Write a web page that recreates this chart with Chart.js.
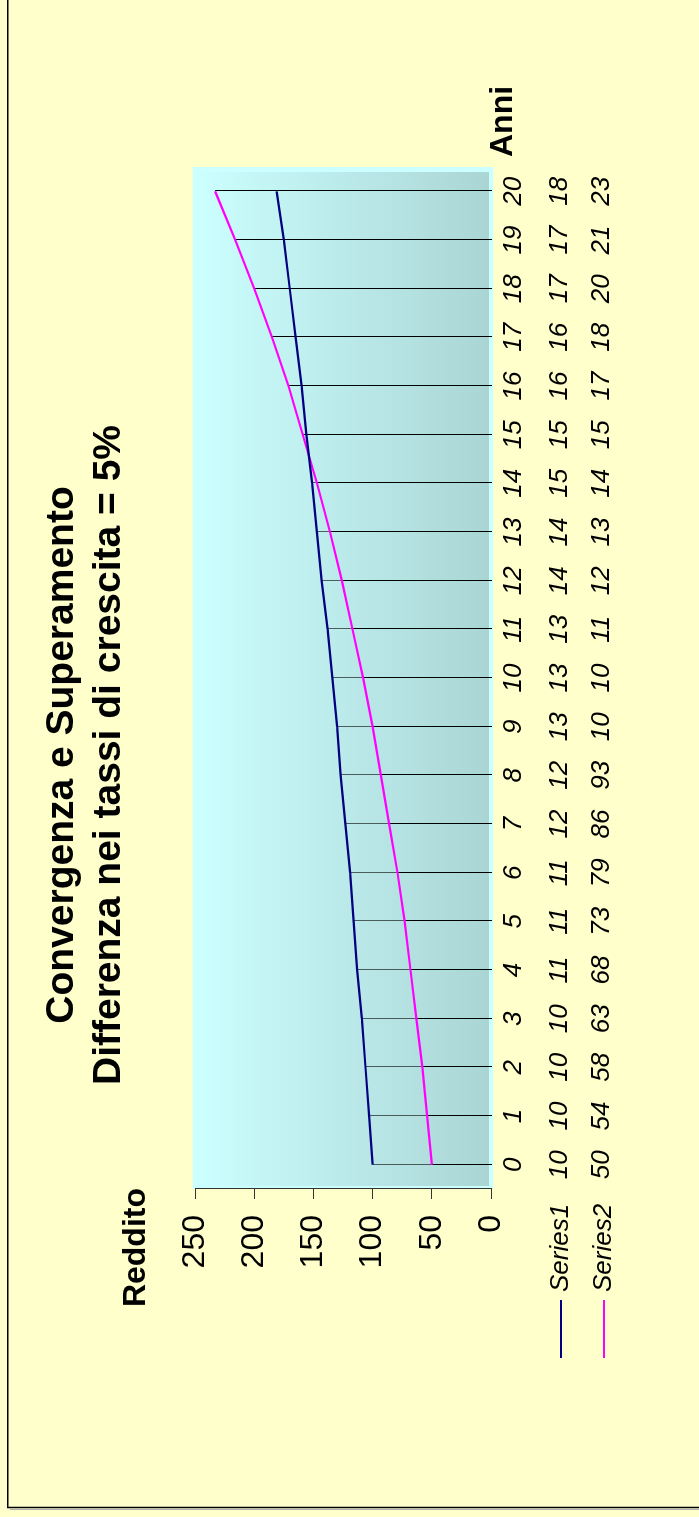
<!DOCTYPE html>
<html><head><meta charset="utf-8">
<script src="https://cdn.jsdelivr.net/npm/chart.js@4/dist/chart.umd.min.js"></script>
<style>
html,body{margin:0;padding:0;background:#FFFFCC;overflow:hidden;width:699px;height:1517px;}
#wrap{position:absolute;left:0;top:0;width:1517px;height:699px;transform-origin:0 0;transform:translateY(1517px) rotate(-90deg);}
canvas{display:block;}
</style></head><body>
<div id="wrap"><canvas id="c" width="1517" height="699"></canvas></div>
<script>
// ---- data ----
const years = ['0','1','2','3','4','5','6','7','8','9','10','11','12','13','14','15','16','17','18','19','20'];
const series1 = [100,103,106,109,113,116,119,123,127,130,134,138,143,147,151,156,160,165,170,175,181];
const series2 = [50,54,58,63,68,73,79,86,93,100,108,117,126,136,147,159,171,185,200,216,233];
const series1Table = ['10','10','10','10','11','11','11','12','12','13','13','13','14','14','15','15','16','16','17','17','18'];
const series2Table = ['50','54','58','63','68','73','79','86','93','10','10','11','12','13','14','15','17','18','20','21','23'];
const seriesNames = ['Series1','Series2'];
const yMin = 0, yMax = 250, yStep = 50;
const titleLines = ['Convergenza e Superamento','Differenza nei tassi di crescita = 5%'];
const yAxisTitle = 'Reddito';
const xAxisTitle = 'Anni';

const FONT = '"Liberation Sans", Arial, sans-serif';
const colors = ['#000080','#FF00FF'];

const deco = {
  id: 'deco',
  beforeDraw(chart) {
    const ctx = chart.ctx, a = chart.chartArea, W = chart.width, H = chart.height;
    ctx.save();
    ctx.fillStyle = '#FFFFCC';
    ctx.fillRect(0, 0, W, H);
    // outer border
    ctx.strokeStyle = '#b0b0b0'; ctx.lineWidth = 1;
    ctx.beginPath(); ctx.moveTo(7.5, 10); ctx.lineTo(7.5, H); ctx.stroke();
    ctx.strokeStyle = '#000'; ctx.lineWidth = 1.5;
    ctx.beginPath(); ctx.moveTo(9.5, H); ctx.lineTo(9.5, 7.8); ctx.lineTo(W, 7.8); ctx.stroke();
    // plot frame
    ctx.fillStyle = '#CCFFFF';
    ctx.fillRect(a.left, a.top - 2.3, a.right - a.left, a.bottom - a.top + 4.6);
    const g = ctx.createLinearGradient(0, a.top, 0, a.bottom - 2);
    g.addColorStop(0, '#CCFFFF');
    g.addColorStop(1, '#ABD5D5');
    ctx.fillStyle = g;
    ctx.fillRect(a.left + 3, a.top, (a.right - 5) - (a.left + 3), (a.bottom - 2) - a.top);
    ctx.restore();
  },
  beforeDatasetsDraw(chart) {
    const ctx = chart.ctx, a = chart.chartArea;
    ctx.save();
    ctx.lineWidth = 1;
    [1, 0].forEach(di => {
      const meta = chart.getDatasetMeta(di);
      ctx.strokeStyle = di === 1 ? '#000' : 'rgba(0,0,0,0.6)';
      meta.data.forEach(p => {
        const x = Math.round(p.x) + 0.5;
        ctx.beginPath(); ctx.moveTo(x, p.y); ctx.lineTo(x, a.bottom + 1); ctx.stroke();
      });
    });
    ctx.restore();
  },
  afterDraw(chart) {
    const ctx = chart.ctx, a = chart.chartArea, xs = chart.scales.x;
    ctx.save();
    ctx.fillStyle = '#000';
    // title
    ctx.font = 'bold 39px ' + FONT;
    ctx.textAlign = 'center'; ctx.textBaseline = 'alphabetic';
    ctx.fillText(titleLines[0], 762, 73);
    ctx.fillText(titleLines[1], 762, 120);
    // axis titles
    ctx.font = 'bold 32px ' + FONT;
    ctx.textAlign = 'right';
    ctx.fillText(yAxisTitle, a.left + 1, 145);
    ctx.textAlign = 'left';
    ctx.fillText(xAxisTitle, 1360, 512);
    // data table
    ctx.font = 'italic 26px ' + FONT;
    ctx.textAlign = 'center'; ctx.textBaseline = 'middle';
    years.forEach((y, i) => {
      const x = xs.getPixelForValue(i);
      ctx.fillText(y, x, 514);
      ctx.fillText(series1Table[i], x, 560);
      ctx.fillText(series2Table[i], x, 602);
    });
    // legend
    const rows = [561, 604];
    seriesNames.forEach((n, i) => {
      ctx.strokeStyle = colors[i]; ctx.lineWidth = 2;
      ctx.beginPath(); ctx.moveTo(159, rows[i]); ctx.lineTo(217, rows[i]); ctx.stroke();
      ctx.textAlign = 'left';
      ctx.fillText(n, 225, rows[i]);
    });
    ctx.restore();
  }
};

new Chart(document.getElementById('c'), {
  type: 'line',
  data: {
    labels: years,
    datasets: [
      { label: seriesNames[0], data: series1, borderColor: colors[0], borderWidth: 2.2, pointRadius: 0, tension: 0, fill: false },
      { label: seriesNames[1], data: series2, borderColor: colors[1], borderWidth: 2.2, pointRadius: 0, tension: 0, fill: false }
    ]
  },
  options: {
    responsive: false,
    animation: false,
    devicePixelRatio: 1,
    layout: { padding: { left: 0, right: 167, top: 195, bottom: 208 } },
    plugins: { legend: { display: false }, title: { display: false }, tooltip: { enabled: false } },
    scales: {
      x: { type: 'category', offset: true, display: false },
      y: {
        min: yMin, max: yMax,
        ticks: { stepSize: yStep, color: '#000', font: { family: FONT, size: 32 }, padding: 16 },
        grid: { drawOnChartArea: false, drawTicks: true, tickLength: 10, tickColor: '#333', tickWidth: 1 },
        border: { display: true, color: '#333', width: 1 },
        afterFit(scale) { scale.width = 328; }
      }
    }
  },
  plugins: [deco]
});
</script>
</body></html>
